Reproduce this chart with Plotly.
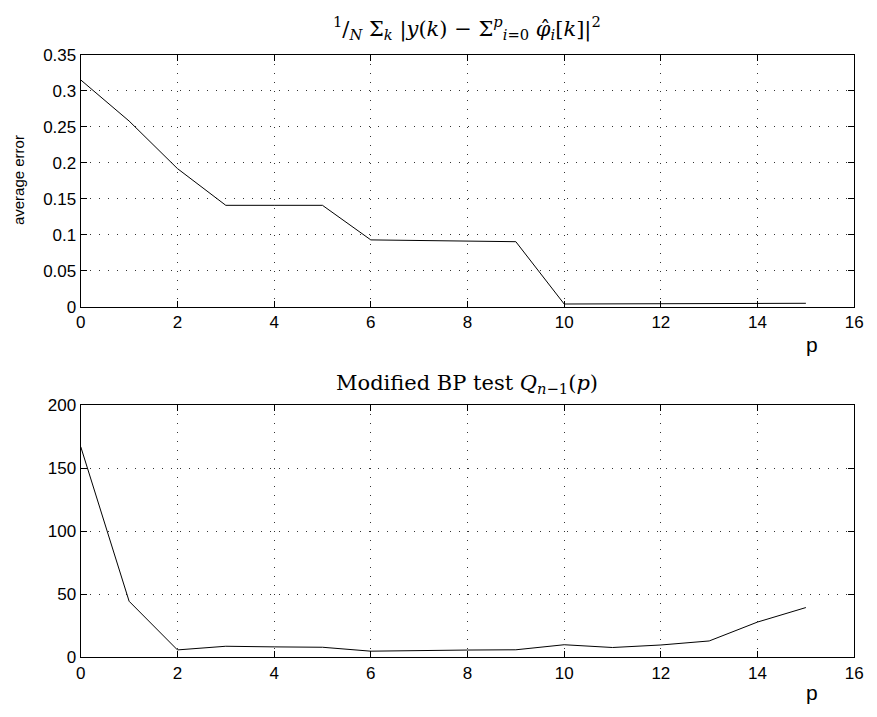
import plotly.graph_objects as go

p_vals = list(range(16))
avg_error = [0.315, 0.258, 0.192, 0.141, 0.141, 0.141, 0.093, 0.092, 0.091, 0.0905,
             0.004, 0.004, 0.004, 0.0045, 0.005, 0.005]
bp_test = [167, 44.5, 5.9, 8.8, 8.3, 8.0, 4.9, 5.5, 5.8, 6.0,
           10.0, 7.8, 9.8, 13.0, 28.0, 39.5]

x_ticks = [0, 2, 4, 6, 8, 10, 12, 14, 16]
y1_ticks = [0, 0.05, 0.1, 0.15, 0.2, 0.25, 0.3, 0.35]
y1_labels = ["0", "0.05", "0.1", "0.15", "0.2", "0.25", "0.3", "0.35"]
y2_ticks = [0, 50, 100, 150, 200]

W, H = 877, 717
left, right = 77, 863
t1, b1 = 47, 306
t2, b2 = 407, 666

fig = go.Figure()
fig.add_trace(go.Scatter(x=p_vals, y=avg_error, mode="lines",
                         line=dict(color="black", width=1), xaxis="x", yaxis="y",
                         showlegend=False))
fig.add_trace(go.Scatter(x=p_vals, y=bp_test, mode="lines",
                         line=dict(color="black", width=1), xaxis="x2", yaxis="y2",
                         showlegend=False))

tickfont = dict(family="Liberation Sans, Arial, sans-serif", size=17, color="black")
common = dict(showline=True, linecolor="black", linewidth=1.3, mirror="ticks",
              ticks="inside", ticklen=6, tickcolor="black", tickwidth=1,
              showgrid=True, gridcolor="rgba(0,0,0,0.8)", griddash="1px,8px", gridwidth=1,
              zeroline=False, tickfont=tickfont)

fig.update_layout(
    width=W, height=H,
    margin=dict(l=0, r=0, t=0, b=0),
    paper_bgcolor="white", plot_bgcolor="white",
    xaxis=dict(domain=[left / W, right / W], range=[0, 16], tickvals=x_ticks,
               anchor="y", **common),
    yaxis=dict(domain=[1 - b1 / H, 1 - t1 / H], range=[0, 0.35], tickvals=y1_ticks,
               ticktext=y1_labels, anchor="x", **common),
    xaxis2=dict(domain=[left / W, right / W], range=[0, 16], tickvals=x_ticks,
                anchor="y2", **common),
    yaxis2=dict(domain=[1 - b2 / H, 1 - t2 / H], range=[0, 200], tickvals=y2_ticks,
                anchor="x2", **common),
)

serif = dict(family="DejaVu Serif, Liberation Serif, serif", size=21, color="black")
title1 = ("<sup>1</sup>/<sub><i>N</i></sub> Σ<sub><i>k</i></sub> |<i>y</i>(<i>k</i>) − "
          "Σ<sup><i>p</i></sup><sub><i>i</i>=0</sub> "
          "<i>φ</i>\u0302<sub><i>i</i></sub>[<i>k</i>]|<sup>2</sup>")
title2 = "Modified BP test <i>Q</i><sub><i>n</i>−1</sub>(<i>p</i>)"
cx = (left + right) / 2 / W
fig.add_annotation(text=title1, x=cx, y=1 - 20 / H, xref="paper", yref="paper",
                   showarrow=False, font=serif, xanchor="center", yanchor="middle")
fig.add_annotation(text=title2, x=cx, y=1 - 385 / H, xref="paper", yref="paper",
                   showarrow=False, font=serif, xanchor="center", yanchor="middle")

plabel = dict(family="Liberation Sans, Arial, sans-serif", size=21, color="black")
fig.add_annotation(text="p", x=820 / W, y=1 - 345 / H, xref="paper", yref="paper",
                   showarrow=False, font=plabel, xanchor="center", yanchor="middle")
fig.add_annotation(text="p", x=820 / W, y=1 - 702 / H, xref="paper", yref="paper",
                   showarrow=False, font=plabel, xanchor="center", yanchor="middle")
fig.add_annotation(text="average error", x=14 / W, y=1 - 176 / H, xref="paper",
                   yref="paper", showarrow=False, textangle=-90,
                   font=dict(family="Liberation Sans, Arial, sans-serif", size=15,
                             color="black"),
                   xanchor="center", yanchor="middle")

fig.write_html("out.html")
